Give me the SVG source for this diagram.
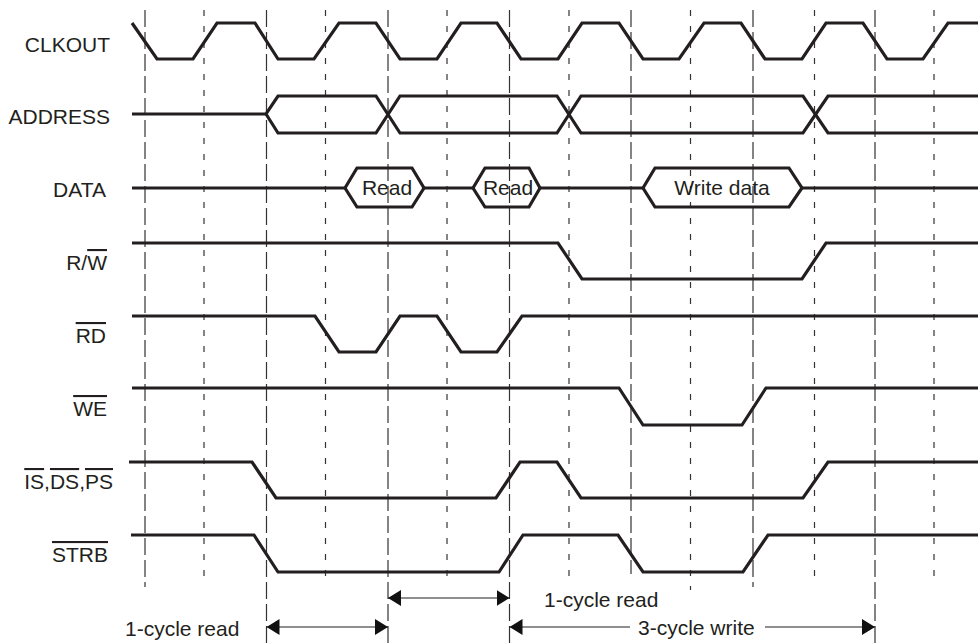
<svg xmlns="http://www.w3.org/2000/svg" width="978" height="644" viewBox="0 0 978 644">
<style>
text{font-family:"Liberation Sans",Arial,Helvetica,sans-serif;font-size:21px;fill:#231f20}
.lbl{text-anchor:end}
.mid{text-anchor:middle}
.ov{text-decoration:overline}
.sig{fill:none;stroke:#231f20;stroke-width:3.2;stroke-linejoin:miter;stroke-linecap:butt}
.long{stroke:#333;stroke-width:1.2;stroke-dasharray:17 5;fill:none}
.short{stroke:#333;stroke-width:1.2;stroke-dasharray:6 10;fill:none}
.arr{stroke:#231f20;stroke-width:1.2;fill:none}
</style>
<defs>
<marker id="ah" viewBox="0 0 13 16" refX="13" refY="8" markerWidth="13" markerHeight="16" markerUnits="userSpaceOnUse" orient="auto-start-reverse">
<path d="M0,0 L13,8 L0,16 Z" fill="#111"/>
</marker>
</defs>
<rect width="978" height="644" fill="#fff"/>
<g id="grid">
<line class="long" x1="145" y1="10" x2="145" y2="587"/>
<line class="long" x1="266.5" y1="10" x2="266.5" y2="644"/>
<line class="long" x1="388" y1="10" x2="388" y2="644"/>
<line class="long" x1="509.5" y1="10" x2="509.5" y2="644"/>
<line class="long" x1="631" y1="10" x2="631" y2="574"/>
<line class="long" x1="753" y1="10" x2="753" y2="587"/>
<line class="long" x1="875" y1="10" x2="875" y2="644"/>
<line class="short" x1="204" y1="10" x2="204" y2="585"/>
<line class="short" x1="325.5" y1="10" x2="325.5" y2="585"/>
<line class="short" x1="447" y1="10" x2="447" y2="585"/>
<line class="short" x1="569" y1="10" x2="569" y2="585"/>
<line class="short" x1="690.5" y1="10" x2="690.5" y2="590"/>
<line class="short" x1="814.5" y1="10" x2="814.5" y2="585"/>
<line class="short" x1="934" y1="10" x2="934" y2="580"/>
</g>
<g id="clkout">
<text class="lbl" x="110" y="52">CLKOUT</text>
<path class="sig" d="M132,23 L157,59 L193,59 L217,23 L255,23 L278,59 L314,59 L339,23 L376,23 L400,59 L437,59 L461,23 L497,23 L521,59 L558,59 L582,23 L619,23 L643,59 L679,59 L704,23 L741,23 L765,59 L802,59 L826,23 L863,23 L887,59 L923,59 L948,23 L978,23"/>
</g>
<g id="address">
<text class="lbl" x="110" y="124">ADDRESS</text>
<path class="sig" d="M132,114 L266,114 L278,96 L376,96 L400,133 L557,133 L581,96 L803,96 L828,133 L978,133"/>
<path class="sig" d="M266,114 L278,133 L376,133 L400,96 L557,96 L581,133 L803,133 L828,96 L978,96"/>
</g>
<g id="data">
<text class="lbl" x="106" y="197">DATA</text>
<path class="sig" d="M132,188 L345,188 M424,188 L473,188 M540,188 L643,188 M802,188 L978,188"/>
<path class="sig" d="M345,188 L357,168 L412,168 L424,188 L412,207 L357,207 Z"/>
<path class="sig" d="M473,188 L485,168 L529,168 L540,188 L529,207 L485,207 Z"/>
<path class="sig" d="M643,188 L655,168 L789,168 L802,188 L789,207 L655,207 Z"/>
<text class="mid" x="387" y="195">Read</text>
<text class="mid" x="508" y="195">Read</text>
<text class="mid" x="722" y="195">Write data</text>
</g>
<g id="rw">
<text class="lbl" x="107" y="270">R/<tspan class="ov">W</tspan></text>
<path class="sig" d="M132,243 L558,243 L582,279 L802,279 L826,243 L978,243"/>
</g>
<g id="rd">
<text class="lbl" x="106" y="343"><tspan class="ov">RD</tspan></text>
<path class="sig" d="M132,316 L315,316 L339,352 L376,352 L400,316 L437,316 L461,352 L497,352 L522,316 L978,316"/>
</g>
<g id="we">
<text class="lbl" x="107" y="416"><tspan class="ov">WE</tspan></text>
<path class="sig" d="M132,388 L619,388 L643,425 L742,425 L766,388 L978,388"/>
</g>
<g id="isdsps">
<text class="lbl" x="113" y="489"><tspan class="ov">IS</tspan>,<tspan class="ov">DS</tspan>,<tspan class="ov">PS</tspan></text>
<path class="sig" d="M129,462 L252,462 L276,498 L496,498 L520,462 L557,462 L581,498 L803,498 L828,462 L978,462"/>
</g>
<g id="strb">
<text class="lbl" x="108" y="562"><tspan class="ov">STRB</tspan></text>
<path class="sig" d="M131,535 L254,535 L278,572 L499,572 L523,535 L618,535 L643,572 L743,572 L768,535 L978,535"/>
</g>
<g id="connectors">
<line class="arr" x1="266.5" y1="627" x2="388" y2="627" marker-start="url(#ah)" marker-end="url(#ah)"/>
<line class="arr" x1="388" y1="598" x2="509.5" y2="598" marker-start="url(#ah)" marker-end="url(#ah)"/>
<line class="arr" x1="509.5" y1="627" x2="630" y2="627" marker-start="url(#ah)"/>
<line class="arr" x1="765" y1="627" x2="875" y2="627" marker-end="url(#ah)"/>
</g>
<g id="labels">
<text x="125" y="636">1-cycle read</text>
<text x="544" y="607">1-cycle read</text>
<text x="638" y="635">3-cycle write</text>
</g>
</svg>
